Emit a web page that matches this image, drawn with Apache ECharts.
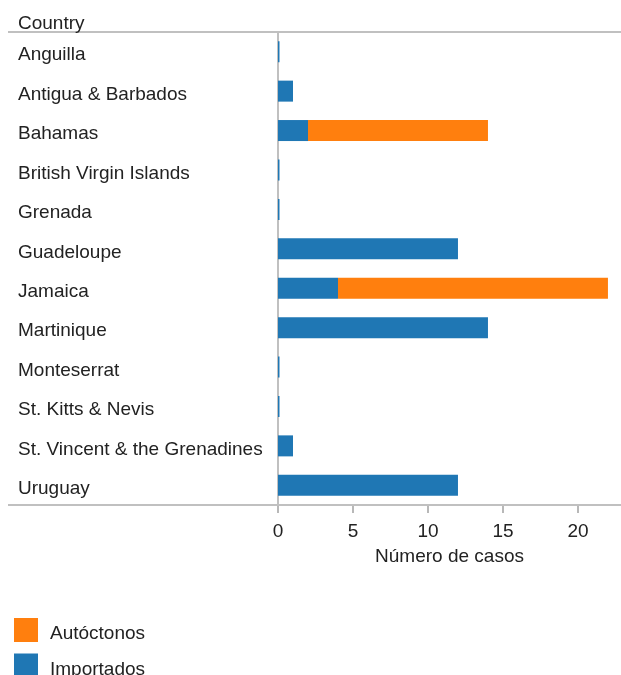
<!DOCTYPE html>
<html>
<head>
<meta charset="utf-8">
<script src="https://cdn.jsdelivr.net/npm/echarts@6/dist/echarts.min.js"></script>
<style>
  html, body { margin: 0; padding: 0; background: #fff; }
  #chart { width: 621px; height: 675px; }
</style>
</head>
<body>
<div id="chart"></div>
<script>
// Cases per country, split into imported and locally acquired (autochthonous)
const countries = [
  'Anguilla', 'Antigua & Barbados', 'Bahamas', 'British Virgin Islands',
  'Grenada', 'Guadeloupe', 'Jamaica', 'Martinique', 'Monteserrat',
  'St. Kitts & Nevis', 'St. Vincent & the Grenadines', 'Uruguay'
];
const importados  = [0.1, 1, 2, 0.1, 0.1, 12, 4, 14, 0.1, 0.1, 1, 12];
const autoctonos  = [0, 0, 12, 0, 0, 0, 18, 0, 0, 0, 0, 0];
const xTicks = [0, 5, 10, 15, 20];
const xMax = 22.87;

const FONT = 'Liberation Sans, Arial, sans-serif';
const TEXT = '#222';
const RULE = '#c0c0c0';
const BLUE = '#1f77b4';
const ORANGE = '#ff7f0e';

const gridTop = 32, gridBottom = 170, gridLeft = 278;
const W = 621, H = 675;

const chart = echarts.init(document.getElementById('chart'), null, { renderer: 'canvas' });

chart.setOption({
  animation: false,
  backgroundColor: '#fff',
  textStyle: { fontFamily: FONT },
  title: {
    text: 'Country',
    left: 18,
    top: 14,
    padding: 0,
    textStyle: { fontFamily: FONT, fontSize: 19, fontWeight: 'normal', color: TEXT }
  },
  legend: {
    orient: 'vertical',
    left: 14,
    top: 618,
    height: 80,
    padding: 0,
    itemWidth: 24,
    itemHeight: 24,
    itemGap: 10,
    icon: 'rect',
    data: ['Autóctonos', 'Importados'],
    formatter: name => '{t|' + name + '}',
    textStyle: {
      fontFamily: FONT, fontSize: 19, color: TEXT,
      rich: { t: { fontFamily: FONT, fontSize: 19, color: TEXT, padding: [8, 0, 0, 7] } }
    }
  },
  grid: { left: gridLeft, right: 0, top: gridTop, bottom: gridBottom, containLabel: false },
  xAxis: {
    type: 'value',
    min: 0,
    max: xMax,
    interval: 5,
    name: 'Número de casos',
    nameLocation: 'middle',
    nameGap: 42,
    nameTextStyle: { fontFamily: FONT, fontSize: 19, color: TEXT },
    axisLine: { show: false },
    axisTick: {
      show: true, length: 8, customValues: xTicks,
      lineStyle: { color: '#b8b8b8', width: 2 }
    },
    axisLabel: {
      customValues: xTicks,
      margin: 17,
      fontFamily: FONT, fontSize: 19, color: TEXT
    },
    splitLine: { show: false }
  },
  yAxis: {
    type: 'category',
    data: countries,
    inverse: true,
    axisLine: { show: true, lineStyle: { color: RULE, width: 2 } },
    axisTick: { show: false },
    axisLabel: {
      align: 'left',
      margin: gridLeft - 18,
      formatter: v => '{c|' + v + '}',
      rich: { c: { fontFamily: FONT, fontSize: 19, color: TEXT, padding: [7, 0, 0, 0] } }
    },
    splitLine: { show: false }
  },
  series: [
    {
      name: 'Importados',
      type: 'bar',
      stack: 'casos',
      data: importados,
      barWidth: 21,
      itemStyle: { color: BLUE },
      z: 3
    },
    {
      name: 'Autóctonos',
      type: 'bar',
      stack: 'casos',
      data: autoctonos,
      barWidth: 21,
      itemStyle: { color: ORANGE },
      z: 3
    }
  ],
  graphic: [
    {
      type: 'line', silent: true, z: 1,
      shape: { x1: 8, y1: gridTop, x2: W, y2: gridTop },
      style: { stroke: RULE, lineWidth: 2 }
    },
    {
      type: 'line', silent: true, z: 1,
      shape: { x1: 8, y1: H - gridBottom, x2: W, y2: H - gridBottom },
      style: { stroke: RULE, lineWidth: 2 }
    }
  ]
});
</script>
</body>
</html>
